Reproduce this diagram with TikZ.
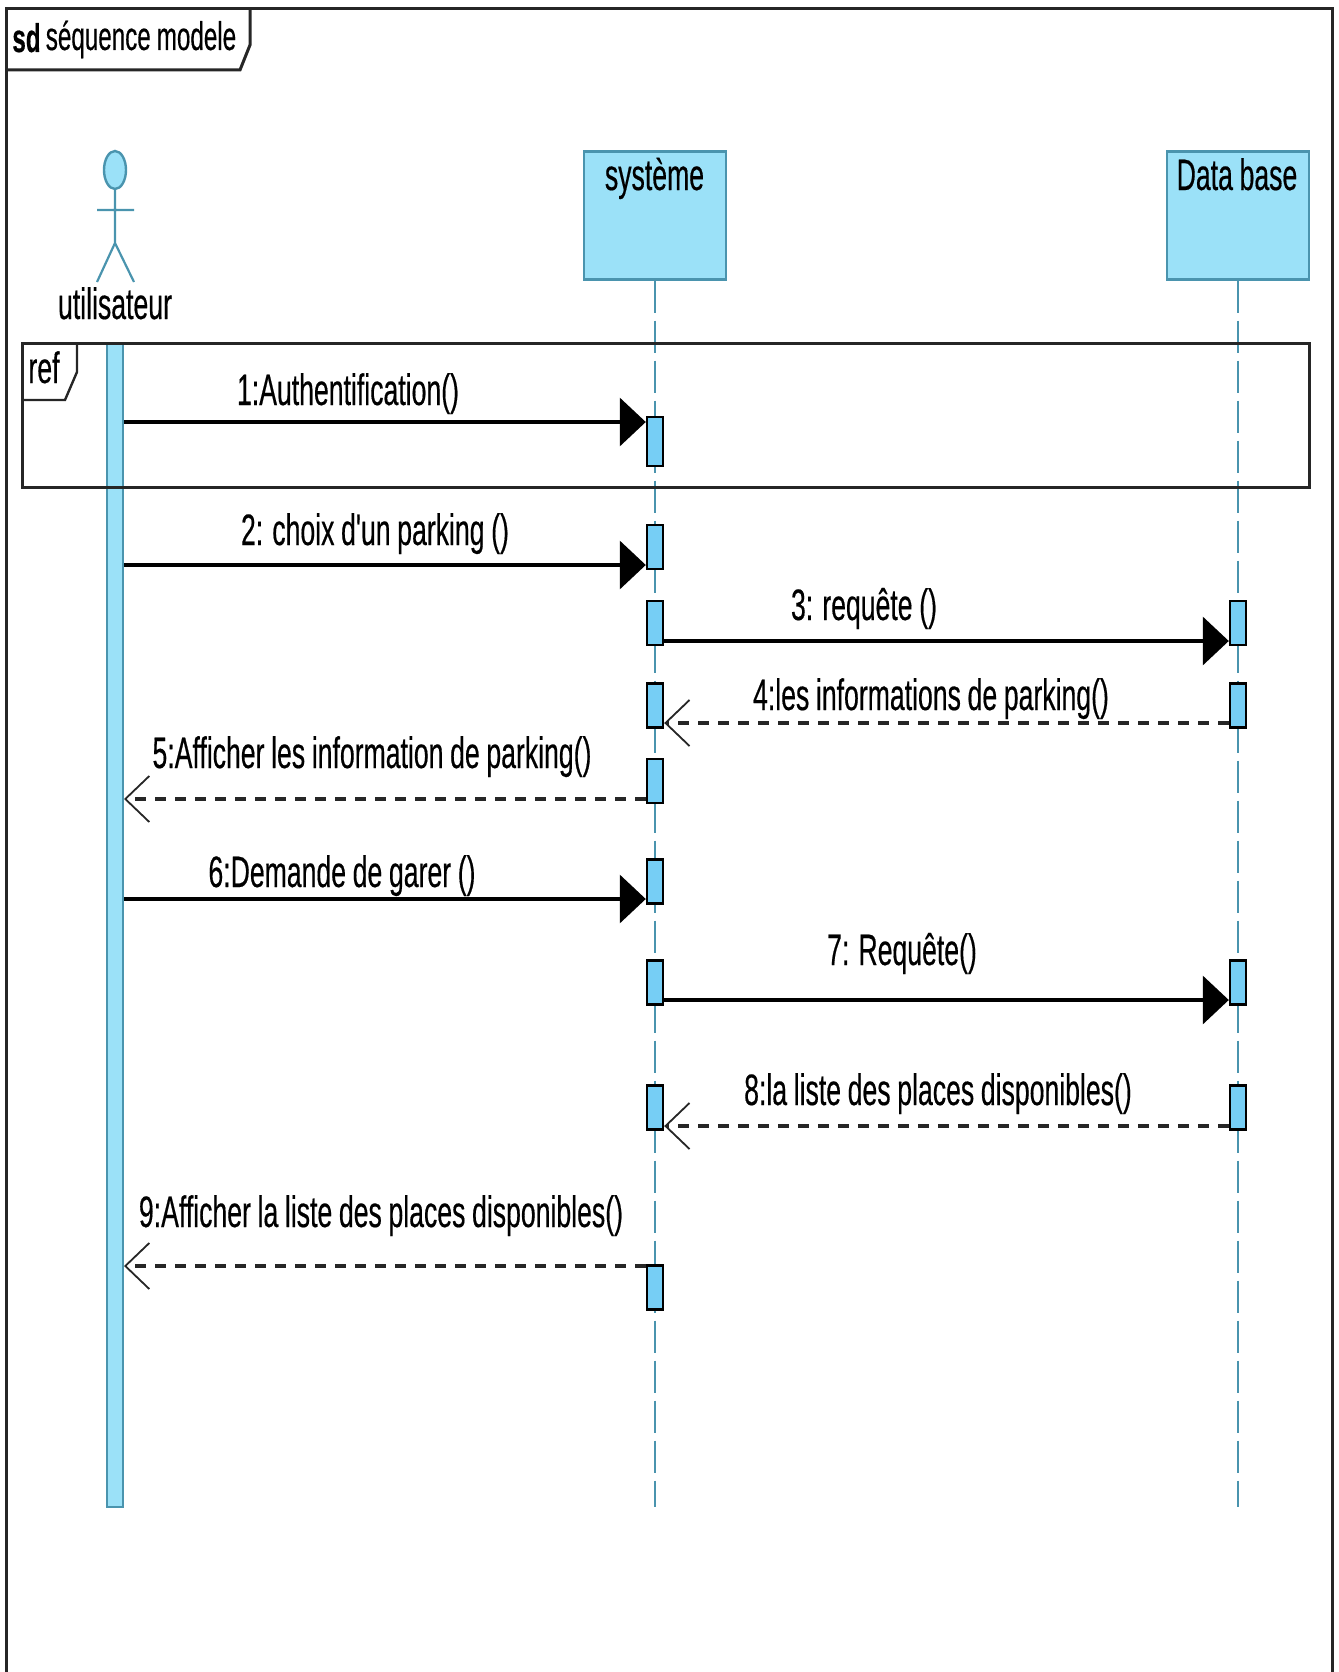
\documentclass[tikz,border=0pt]{standalone}
\usepackage{fontspec}
\newfontfamily\lblfont[FakeStretch=0.605,WordSpace=0.9,FakeBold=0.35]{Liberation Sans}
\usetikzlibrary{arrows.meta}
\definecolor{lifefill}{HTML}{9BE1F8}
\definecolor{actfill}{HTML}{76CEF5}
\definecolor{lifeline}{HTML}{4A94AE}
\tikzset{
    lbl/.style={inner sep=0pt, anchor=base, font=\lblfont\fontsize{44}{48}\selectfont},
    lifebox/.style={draw=lifeline, fill=lifefill, line width=2.4pt, minimum width=142pt, minimum height=128pt, inner sep=0pt},
    actbox/.style={draw=black, fill=actfill, line width=2.4pt, minimum width=16pt, minimum height=44pt, inner sep=0pt},
    lifedash/.style={draw=lifeline, line width=1.8pt, dash pattern=on 32pt off 8pt},
    framebox/.style={draw=black!85, line width=3pt},
    callmsg/.style={draw=black, line width=3.4pt, -{Triangle[length=26pt,width=48pt]}},
    retmsg/.style={draw=black!85, line width=3.6pt, dash pattern=on 11pt off 9pt, -{Straight Barb[length=24pt,width=46pt,line width=1.8pt]}},
}
\begin{document}
\begin{tikzpicture}[x=1pt, y=-1pt]
    \useasboundingbox (0,0) rectangle (1338,1672);
    % cadre sd
    \draw[framebox] (6,1672) -- (6,9) -- (1332,9) -- (1332,1672);
    \draw[framebox] (6,70) -- (240,70) -- (250,45) -- (250,9);
    \node[lbl, font=\lblfont\fontsize{40}{44}\selectfont\bfseries] (sdkey) at (26.5,52) {sd};
    \node[lbl, font=\lblfont\fontsize{40}{44}\selectfont] (sdname) at (141,50) {séquence modele};
    % acteur
    \draw[lifeline, fill=lifefill, line width=2.4pt] (115,170) ellipse (11 and 19);
    \draw[lifeline, line width=2.2pt] (115,189) -- (115,243) (97,210) -- (134,210) (97,282) -- (115,243) -- (134,282);
    \node[lbl] (utilisateur) at (115,319) {utilisateur};
    % lignes de vie
    \node[lifebox] (sys) at (655,215.5) {};
    \node[lifebox] (db) at (1238,215.5) {};
    \node[lbl] (systxt) at (654.5,190) {système};
    \node[lbl] (dbtxt) at (1237,190) {Data base};
    \coordinate (sysend) at (655,1507);
    \coordinate (dbend) at (1238,1507);
    \draw[lifedash] (sys.south) -- (sysend);
    \draw[lifedash] (db.south) -- (dbend);
    \node[draw=lifeline, fill=lifefill, line width=2pt, minimum width=16pt, minimum height=1163pt, inner sep=0pt] (bar) at (115,925) {};
    % fragment ref
    \draw[framebox] (22,343) rectangle (1309,487);
    \draw[framebox, line width=2.4pt] (22,400) -- (65,400) -- (77,372) -- (77,343);
    \node[lbl] (reftxt) at (44,383) {ref};
    % activations
    \node[actbox, minimum height=49pt] (act1) at (655,441.5) {};
    \node[actbox] (act2) at (655,547) {};
    \node[actbox] (act3) at (655,623) {};
    \node[actbox] (act4) at (655,705.5) {};
    \node[actbox] (act5) at (655,781) {};
    \node[actbox] (act6) at (655,881.5) {};
    \node[actbox] (act7) at (655,982.5) {};
    \node[actbox] (act8) at (655,1107.5) {};
    \node[actbox] (act9) at (655,1287.5) {};
    \node[actbox] (dbact3) at (1238,623) {};
    \node[actbox] (dbact4) at (1238,705.5) {};
    \node[actbox] (dbact7) at (1238,982.5) {};
    \node[actbox] (dbact8) at (1238,1107.5) {};
    % messages
    \coordinate (m1) at (655,422);
    \coordinate (m2) at (655,565);
    \coordinate (m3) at (655,641);
    \coordinate (m4) at (655,723);
    \coordinate (m5) at (655,799);
    \coordinate (m6) at (655,899);
    \coordinate (m7) at (655,1000);
    \coordinate (m8) at (655,1126);
    \coordinate (m9) at (655,1266);
    \draw[callmsg] (m1 -| bar.east) -- (m1 -| act1.west);
    \draw[callmsg] (m2 -| bar.east) -- (m2 -| act2.west);
    \draw[callmsg] (m3 -| act3.east) -- (m3 -| dbact3.west);
    \draw[retmsg] (m4 -| dbact4.west) -- (m4 -| act4.east);
    \draw[retmsg] (m5 -| act5.west) -- (m5 -| bar.east);
    \draw[callmsg] (m6 -| bar.east) -- (m6 -| act6.west);
    \draw[callmsg] (m7 -| act7.east) -- (m7 -| dbact7.west);
    \draw[retmsg] (m8 -| dbact8.west) -- (m8 -| act8.east);
    \draw[retmsg] (m9 -| act9.west) -- (m9 -| bar.east);
    \node[lbl] (t1) at (348,405) {1:Authentification()};
    \node[lbl] (t2) at (375,545) {2: choix d'un parking ()};
    \node[lbl] (t3) at (864,620) {3: requête ()};
    \node[lbl] (t4) at (931,710) {4:les informations de parking()};
    \node[lbl] (t5) at (372,768) {5:Afficher les information de parking()};
    \node[lbl] (t6) at (342,887) {6:Demande de garer ()};
    \node[lbl] (t7) at (902,965) {7: Requête()};
    \node[lbl] (t8) at (938,1105) {8:la liste des places disponibles()};
    \node[lbl] (t9) at (381,1227) {9:Afficher la liste des places disponibles()};
\end{tikzpicture}
\end{document}
